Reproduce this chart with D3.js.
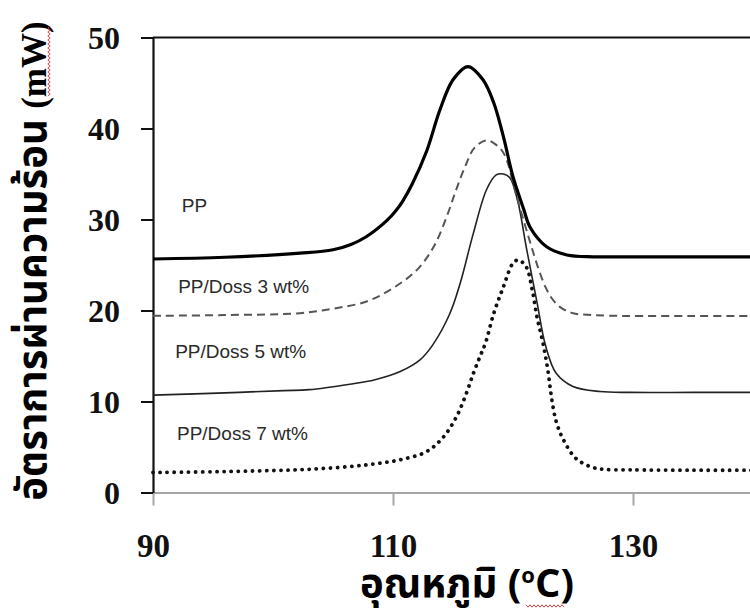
<!DOCTYPE html>
<html>
<head>
<meta charset="utf-8">
<script src="https://cdn.jsdelivr.net/npm/d3@7"></script>
<style>
  html, body { margin: 0; padding: 0; background: #fff; }
  svg { display: block; }
</style>
</head>
<body>
<svg id="chart" width="750" height="609"></svg>
<script>
// DSC crystallisation curves: heat flow (mW) against temperature (°C)
const xTicks = [90, 110, 130];
const yTicks = [0, 10, 20, 30, 40, 50];

const ppTemp = [90, 96, 102.25, 105, 106.5, 107.8, 109.5, 110.2, 110.8, 111.6, 112.8, 113.9, 115.0, 116.25, 117.5, 118.4, 119.2, 120.0, 120.9, 121.4, 122.8, 124.5, 126.7, 130, 135, 140];
const ppHeat = [25.66, 25.85, 26.3, 26.67, 27.25, 28.13, 29.9, 30.9, 32.0, 33.9, 37.5, 42.0, 45.35, 46.8, 45.35, 42.8, 39.1, 34.7, 31.1, 29.2, 27.0, 26.1, 25.9, 25.9, 25.9, 25.9];

const doss3Temp = [90, 96, 102.25, 105, 107.8, 110.0, 112.0, 113.4, 114.5, 115.3, 116.1, 116.8, 117.8, 118.6, 119.3, 120.2, 121.2, 121.8, 122.25, 122.7, 123.2, 123.9, 125.0, 126.7, 129.5, 135, 140];
const doss3Heat = [19.42, 19.5, 19.71, 20.2, 20.99, 22.46, 24.47, 27.03, 30.4, 33.4, 36.1, 37.9, 38.7, 38.2, 37.1, 33.0, 28.5, 25.9, 24.1, 22.6, 21.4, 20.4, 19.7, 19.5, 19.4, 19.4, 19.4];

const doss5Temp = [90, 96, 100.9, 103, 106.4, 108.5, 110.6, 112.25, 113.3, 114.75, 115.6, 116.7, 117.8, 118.6, 119.2, 119.75, 120.4, 121.1, 122.0, 122.7, 123.6, 125.0, 127.25, 129.75, 135, 140];
const doss5Heat = [10.70, 10.95, 11.2, 11.3, 11.9, 12.4, 13.3, 14.58, 16.2, 19.7, 23.0, 28.5, 33.3, 34.9, 35.0, 34.55, 32.0, 27.0, 20.9, 16.2, 13.1, 11.65, 11.1, 11.0, 11.0, 11.0];

const doss7Temp = [90, 96, 100.9, 103, 106.4, 108.5, 110.6, 112.8, 114.2, 115.3, 116.1, 116.7, 117.25, 117.7, 118.4, 119.2, 120.0, 120.45, 121.1, 121.6, 122.0, 122.5, 122.9, 123.2, 123.6, 124.2, 125.2, 126.4, 127.5, 129.75, 135, 140];
const doss7Heat = [2.20, 2.3, 2.45, 2.55, 2.85, 3.15, 3.6, 4.5, 6.1, 8.35, 10.85, 13.1, 14.95, 16.4, 19.7, 22.6, 25.2, 25.55, 24.8, 22.3, 19.3, 16.4, 13.5, 10.55, 7.8, 5.8, 3.8, 2.86, 2.55, 2.49, 2.45, 2.45];

const seriesNames = ["PP", "PP/Doss 3 wt%", "PP/Doss 5 wt%", "PP/Doss 7 wt%"];
const labelTemp = [92.4, 92.1, 91.85, 92.0];
const labelHeat = [31.6, 22.6, 15.5, 6.5];

const svg = d3.select("#chart");

const x = d3.scaleLinear().domain([90, 140]).range([153, 753]);
const y = d3.scaleLinear().domain([0, 50]).range([492.5, 37.5]);

const serif = "'Liberation Serif', 'Times New Roman', serif";
const sans = "'Liberation Sans', Arial, sans-serif";
const thai = "Tahoma, 'Noto Sans Thai', 'Leelawadee UI', 'DejaVu Sans', 'Noto Sans', sans-serif";

// x axis (grey baseline with downward ticks)
const gx = svg.append("g")
  .attr("transform", `translate(0,${y(0)})`)
  .call(d3.axisBottom(x).tickValues(xTicks).tickSize(13).tickSizeOuter(0).tickFormat(d3.format("d")));
gx.select(".domain").attr("stroke", "#a6a6a6").attr("stroke-width", 2);
gx.selectAll(".tick line").attr("stroke", "#a6a6a6").attr("stroke-width", 2);
gx.selectAll(".tick text")
  .attr("y", 64).attr("dy", null)
  .attr("fill", "#111")
  .style("font-family", serif).style("font-weight", "bold").style("font-size", "33px");

// top frame line
svg.append("line")
  .attr("x1", x(90)).attr("x2", x(140))
  .attr("y1", y(50)).attr("y2", y(50))
  .attr("stroke", "#111").attr("stroke-width", 2);

// y axis
const gy = svg.append("g")
  .attr("transform", `translate(${x(90)},0)`)
  .call(d3.axisLeft(y).tickValues(yTicks).tickSize(12).tickPadding(21).tickSizeOuter(0).tickFormat(d3.format("d")));
gy.select(".domain").attr("stroke", "#111").attr("stroke-width", 2.2);
gy.selectAll(".tick line").attr("stroke", "#111").attr("stroke-width", 2);
gy.selectAll(".tick text")
  .attr("dy", "0.34em")
  .attr("fill", "#111")
  .style("font-family", serif).style("font-weight", "bold").style("font-size", "32px");

// curves
const line = d3.line()
  .x(d => x(d[0]))
  .y(d => y(d[1]))
  .curve(d3.curveCatmullRom.alpha(0.5));

const zip = (a, b) => a.map((t, i) => [t, b[i]]);

const plot = svg.append("g");

plot.append("path")
  .datum(zip(doss7Temp, doss7Heat))
  .attr("d", line)
  .attr("fill", "none")
  .attr("stroke", "#111")
  .attr("stroke-width", 3.8)
  .attr("stroke-linecap", "round")
  .attr("stroke-dasharray", "0.1,7");

plot.append("path")
  .datum(zip(doss5Temp, doss5Heat))
  .attr("d", line)
  .attr("fill", "none")
  .attr("stroke", "#222")
  .attr("stroke-width", 1.6);

plot.append("path")
  .datum(zip(doss3Temp, doss3Heat))
  .attr("d", line)
  .attr("fill", "none")
  .attr("stroke", "#555")
  .attr("stroke-width", 2)
  .attr("stroke-dasharray", "8,5");

plot.append("path")
  .datum(zip(ppTemp, ppHeat))
  .attr("d", line)
  .attr("fill", "none")
  .attr("stroke", "#000")
  .attr("stroke-width", 3.2);

// series labels
svg.append("g").selectAll("text")
  .data(seriesNames)
  .join("text")
  .attr("x", (d, i) => x(labelTemp[i]))
  .attr("y", (d, i) => y(labelHeat[i]))
  .attr("dy", "0.35em")
  .attr("fill", "#2a2a2a")
  .style("font-family", sans)
  .style("font-size", "19px")
  .text(d => d);

// y axis title
const yTitle = svg.append("text")
  .attr("transform", "translate(46,261) rotate(-90)")
  .attr("text-anchor", "middle")
  .attr("fill", "#000")
  .style("font-weight", "bold");
yTitle.append("tspan")
  .style("font-family", thai).style("font-size", "40px")
  .text("อัตราการผ่านความร้อน ");
yTitle.append("tspan")
  .style("font-family", serif).style("font-size", "35px")
  .text("(mW)");

// x axis title
const xTitle = svg.append("text")
  .attr("x", 467).attr("y", 597)
  .attr("text-anchor", "middle")
  .attr("fill", "#000")
  .style("font-weight", "bold")
  .style("font-family", thai)
  .style("font-size", "40px");
xTitle.append("tspan").text("อุณหภูมิ (");
xTitle.append("tspan").attr("dy", -14).style("font-size", "22px").text("o");
xTitle.append("tspan").attr("dy", 14).text("C)");

// red wavy underlines
const wave = (x0, y0, len, vertical) => {
  const pts = [];
  for (let s = 0; s <= len; s += 2) {
    const off = (s / 2) % 2 === 0 ? -1.2 : 1.2;
    pts.push(vertical ? [x0 + off, y0 - s] : [x0 + s, y0 + off]);
  }
  return d3.line()(pts);
};
svg.append("path").attr("d", wave(49, 96, 70, true))
  .attr("fill", "none").attr("stroke", "#e03030").attr("stroke-width", 0.9);
svg.append("path").attr("d", wave(526, 606, 38, false))
  .attr("fill", "none").attr("stroke", "#e03030").attr("stroke-width", 0.9);
</script>
</body>
</html>
